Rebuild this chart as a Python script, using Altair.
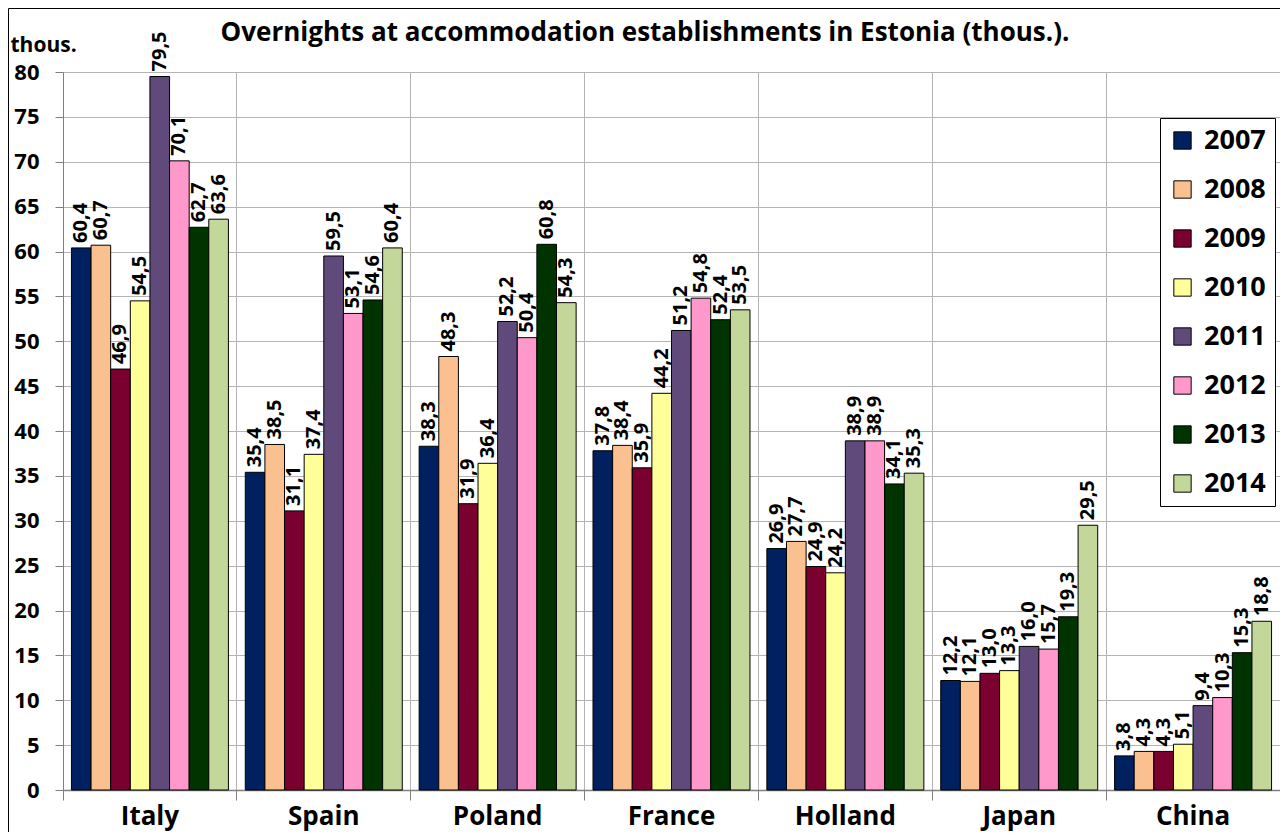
import altair as alt
import pandas as pd

countries = ["Italy", "Spain", "Poland", "France", "Holland", "Japan", "China"]
years = ["2007", "2008", "2009", "2010", "2011", "2012", "2013", "2014"]

v2007 = [60.4, 35.4, 38.3, 37.8, 26.9, 12.2, 3.8]
v2008 = [60.7, 38.5, 48.3, 38.4, 27.7, 12.1, 4.3]
v2009 = [46.9, 31.1, 31.9, 35.9, 24.9, 13.0, 4.3]
v2010 = [54.5, 37.4, 36.4, 44.2, 24.2, 13.3, 5.1]
v2011 = [79.5, 59.5, 52.2, 51.2, 38.9, 16.0, 9.4]
v2012 = [70.1, 53.1, 50.4, 54.8, 38.9, 15.7, 10.3]
v2013 = [62.7, 54.6, 60.8, 52.4, 34.1, 19.3, 15.3]
v2014 = [63.6, 60.4, 54.3, 53.5, 35.3, 29.5, 18.8]

series = [v2007, v2008, v2009, v2010, v2011, v2012, v2013, v2014]
colors = ["#002060", "#FAC090", "#7A0030", "#FFFF99", "#604A7B", "#FF99CC", "#003300", "#C4D79B"]
y_ticks = list(range(0, 85, 5))

rows = []
for yr, vals in zip(years, series):
    for c, v in zip(countries, vals):
        rows.append({"country": c, "year": yr, "value": v})
df = pd.DataFrame(rows)

FONT = "Open Sans"
W, H = 1217, 718

base = alt.Chart(df).transform_calculate(
    label="replace(format(datum.value, '.1f'), '.', ',')"
).encode(
    x=alt.X(
        "country:N",
        sort=countries,
        scale=alt.Scale(paddingInner=0, paddingOuter=0),
        axis=alt.Axis(
            title=None, bandPosition=0, grid=True, gridColor="#b4b4b4", gridWidth=1,
            labelAngle=0, labelFontSize=26, labelFontWeight="bold", labelColor="black",
            labelFont=FONT, labelPadding=3, tickSize=10, tickColor="#808080",
            domainColor="#808080", domainWidth=1.5,
        ),
    ),
    xOffset=alt.XOffset("year:N", sort=years, scale=alt.Scale(paddingInner=0, paddingOuter=0.43)),
    y=alt.Y(
        "value:Q",
        scale=alt.Scale(domain=[0, 80], nice=False),
        axis=alt.Axis(
            values=y_ticks, title="thous.", titleAngle=0, titleAlign="left",
            titleBaseline="middle", titleX=-53, titleY=-27, titleFontSize=21,
            titleFontWeight="bold", titleFont=FONT, titleColor="black",
            labelFontSize=22, labelFontWeight="bold", labelFont=FONT, labelColor="black",
            labelPadding=16, tickSize=8, tickColor="#808080", domainColor="#808080",
            gridColor="#b4b4b4", gridWidth=1,
        ),
    ),
)

bars = base.mark_bar(stroke="black", strokeWidth=1).encode(
    color=alt.Color(
        "year:N",
        scale=alt.Scale(domain=years, range=colors),
        legend=alt.Legend(
            title=None, orient="none", legendX=1097, legendY=46,
            symbolType="square", symbolSize=300, symbolStrokeColor="black",
            symbolStrokeWidth=1, symbolOpacity=1,
            labelFontSize=27, labelFontWeight="bold", labelFont=FONT, labelColor="black",
            labelOffset=8, rowPadding=21, padding=9,
            strokeColor="black", fillColor="white",
        ),
    )
)

labels = base.mark_text(
    angle=270, align="left", baseline="middle", dx=5,
    fontSize=20, fontWeight="bold", font=FONT, color="black",
).encode(text="label:N")

one = pd.DataFrame({"t": ["Overnights at accommodation establishments in Estonia (thous.)."]})
title_text = alt.Chart(one).mark_text(
    fontSize=26, fontWeight="bold", font=FONT, color="black",
    align="center", baseline="middle",
).encode(text="t:N", x=alt.value(582), y=alt.value(-39))

border = alt.Chart(one).mark_rect(
    fill="transparent", stroke="black", strokeWidth=1
).encode(x=alt.value(-54.5), x2=alt.value(1300), y=alt.value(-63.5), y2=alt.value(800))

chart = alt.layer(bars, labels, title_text, border).properties(
    width=W, height=H,
    padding={"left": 55, "top": 64, "right": 0, "bottom": 42},
    autosize=alt.AutoSizeParams(type="none"),
).configure_view(stroke=None).configure(font=FONT)

chart.save("out.html", embed_options={"renderer": "svg", "actions": False})
